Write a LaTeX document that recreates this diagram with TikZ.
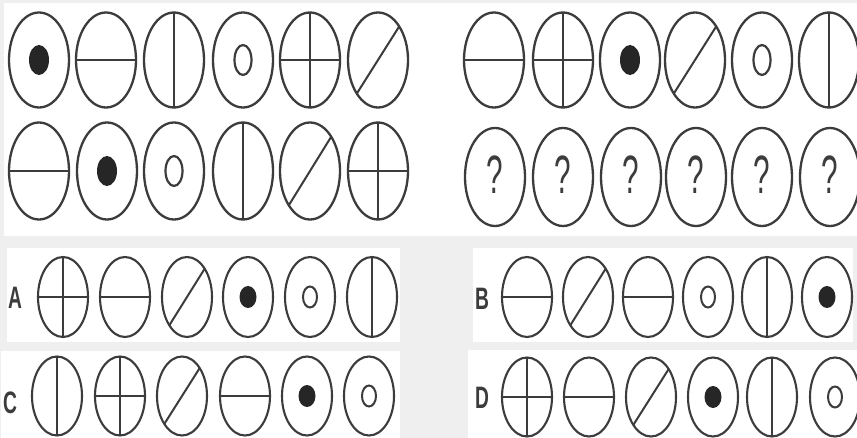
\documentclass[tikz,border=0pt]{standalone}
\usepackage{fontspec}
\setmainfont{Liberation Sans}
\usetikzlibrary{shapes.geometric}
\definecolor{bggray}{HTML}{EFEFEF}
\definecolor{ink}{HTML}{3C3C3C}
\definecolor{dotink}{HTML}{262626}
\tikzset{
  panel/.style={fill=white, draw=none},
  figbase/.style={ellipse, draw=ink, line width=2.3pt, inner sep=0pt, outer sep=0pt},
  bigA/.style={figbase, minimum width=60pt, minimum height=95pt},
  bigB/.style={figbase, minimum width=60pt, minimum height=97pt},
  bigC/.style={figbase, minimum width=60pt, minimum height=98pt},
  smallA/.style={figbase, line width=2.1pt, minimum width=50pt, minimum height=80pt},
  smallC/.style={figbase, line width=2.1pt, minimum width=50pt, minimum height=79pt},
  inl/.style={draw=ink, line width=2pt},
  bigdot/.style={ellipse, fill=dotink, draw=none, inner sep=0pt, minimum width=20pt, minimum height=30pt},
  smalldot/.style={ellipse, fill=dotink, draw=none, inner sep=0pt, minimum width=17pt, minimum height=22pt},
  bigring/.style={ellipse, draw=ink, line width=2.2pt, inner sep=0pt, minimum width=17pt, minimum height=30pt},
  smallring/.style={ellipse, draw=ink, line width=2pt, inner sep=0pt, minimum width=14pt, minimum height=21pt},
  qm/.style={inner sep=0pt, text=ink, font=\fontsize{54}{54}\selectfont},
  lab/.style={inner sep=0pt, text=ink, font=\fontsize{31}{31}\selectfont\bfseries},
}
\newcommand\drh[2]{\draw[inl] (#1.west) -- (#1.east);}
\newcommand\drv[2]{\draw[inl] (#1.north) -- (#1.south);}
\newcommand\drc[2]{\draw[inl] (#1.west) -- (#1.east); \draw[inl] (#1.north) -- (#1.south);}
\newcommand\drd[2]{\draw[inl] (#1.south west) -- (#1.north east);}
\newcommand\drdot[2]{\node[#2dot] (#1i) at (#1.center) {};}
\newcommand\drring[2]{\node[#2ring] (#1i) at (#1.center) {};}
\newcommand\drq[2]{\node[qm] (#1q) at ([yshift=2pt]#1.center) {\scalebox{0.55}[1]{?}};}
\newcommand\shp[6]{%
  \node[#5] (#1) at (#3,#4) {};
  \csname dr#2\endcsname{#1}{#6}}
\begin{document}
\begin{tikzpicture}[x=1pt,y=-1pt]
\fill[bggray] (0,0) rectangle (857,438);
\useasboundingbox (0,0) rectangle (857,438);
% panels
\fill[panel] (4,3) rectangle (857,236);
\fill[panel] (7,248) rectangle (400,342);
\fill[panel] (473,248) rectangle (853,342);
\fill[panel] (1,351) rectangle (400,438);
\fill[panel] (468,350) rectangle (857,438);
% top left
\foreach \t/\x [count=\i] in {dot/39,h/106,v/174,ring/243,c/310,d/378}
  {\shp{tlA\i}{\t}{\x}{60}{bigA}{big}}
\foreach \t/\x [count=\i] in {h/39,dot/107,ring/174,v/243,d/310,c/378}
  {\shp{tlB\i}{\t}{\x}{171}{bigB}{big}}
% top right
\foreach \t/\x [count=\i] in {h/494,c/563,dot/630,d/695,ring/762,v/829}
  {\shp{trA\i}{\t}{\x}{60}{bigA}{big}}
\foreach \t/\x [count=\i] in {q/495,q/563,q/631,q/696,q/762,q/830}
  {\shp{trB\i}{\t}{\x}{177}{bigC}{big}}
% options
\node[lab] (labA) at (15,298) {\scalebox{0.62}[1]{A}};
\node[lab] (labB) at (482,299) {\scalebox{0.62}[1]{B}};
\node[lab] (labC) at (10,403) {\scalebox{0.62}[1]{C}};
\node[lab] (labD) at (482,398) {\scalebox{0.62}[1]{D}};
\foreach \t/\x [count=\i] in {c/63,h/125,d/187,dot/248,ring/310,v/372}
  {\shp{oA\i}{\t}{\x}{297}{smallA}{small}}
\foreach \t/\x [count=\i] in {h/527,d/588,h/648,ring/708,v/767,dot/827}
  {\shp{oB\i}{\t}{\x}{297}{smallA}{small}}
\foreach \t/\x [count=\i] in {v/57,c/120,d/182,h/245,dot/307,ring/369}
  {\shp{oC\i}{\t}{\x}{396}{smallC}{small}}
\foreach \t/\x [count=\i] in {c/527,h/589,d/651,dot/713,v/772,ring/835}
  {\shp{oD\i}{\t}{\x}{397}{smallC}{small}}
\end{tikzpicture}
\end{document}
